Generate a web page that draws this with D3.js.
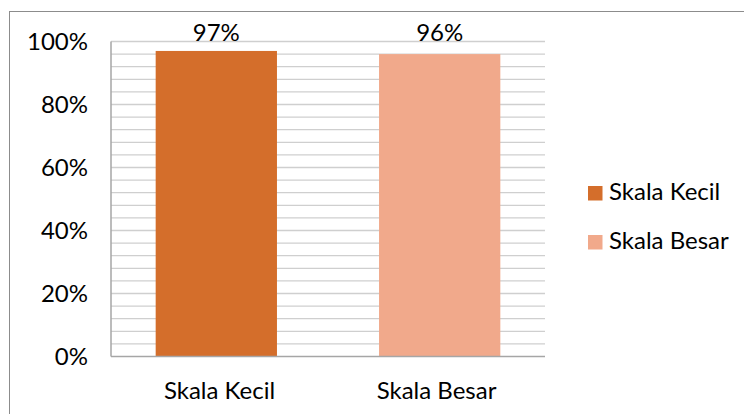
<!DOCTYPE html>
<html>
<head>
<meta charset="utf-8">
<script src="https://cdn.jsdelivr.net/npm/d3@7"></script>
<style>
  body { margin: 0; background: #fff; }
  text { font-family: Lato, "Open Sans", sans-serif; fill: #000; }
</style>
</head>
<body>
<script>
// data
let categories = ["Skala Kecil", "Skala Besar"];
let values = [97, 96];
let labels = ["97%", "96%"];
let colors = ["#D46E2B", "#F1A98B"];
let yTicks = [0, 20, 40, 60, 80, 100];
let gridStep = 4;

let width = 744,
    height = 414;

let svg = d3.select("body")
            .append("svg")
            .attr("width", width)
            .attr("height", height);

// outer chart frame (right/bottom run off the picture)
svg.append("rect")
   .attr("x", 9.5).attr("y", 11.5)
   .attr("width", width).attr("height", height)
   .attr("fill", "none")
   .attr("stroke", "#8c8c8c");

let plotLeft = 111, plotRight = 545, plotTop = 41.5, plotBottom = 356.5;

let y = d3.scaleLinear().domain([0, 100]).range([plotBottom, plotTop]);
let xBar = d3.scaleBand().domain(categories).range([plotLeft, plotRight])
             .paddingInner(0.457).paddingOuter(0.2);
let xCat = d3.scaleBand().domain(categories).range([plotLeft, plotRight]).padding(0);

// grid every 4%
svg.append("g")
   .selectAll("line")
   .data(d3.range(gridStep, 100 + gridStep / 2, gridStep))
   .enter().append("line")
   .attr("x1", plotLeft).attr("x2", plotRight)
   .attr("y1", d => y(d)).attr("y2", d => y(d))
   .attr("stroke", "#cfcfcf")
   .attr("stroke-width", 1.3);

// bars
svg.append("g")
   .selectAll("rect")
   .data(values)
   .enter().append("rect")
   .attr("x", (d, i) => xBar(categories[i]))
   .attr("width", xBar.bandwidth())
   .attr("y", d => y(d))
   .attr("height", d => y(0) - y(d))
   .attr("fill", (d, i) => colors[i]);

// axis lines
svg.append("line")
   .attr("x1", plotLeft).attr("x2", plotLeft).attr("y1", plotTop).attr("y2", plotBottom)
   .attr("stroke", "#a6a6a6").attr("stroke-width", 1.5);
svg.append("line")
   .attr("x1", plotLeft).attr("x2", plotRight).attr("y1", plotBottom).attr("y2", plotBottom)
   .attr("stroke", "#a6a6a6").attr("stroke-width", 1.5);

// y tick labels
svg.append("g")
   .selectAll("text")
   .data(yTicks)
   .enter().append("text")
   .attr("x", 88)
   .attr("y", d => y(d) + 8.5)
   .attr("text-anchor", "end")
   .style("font-size", "24px")
   .text(d => d + "%");

// category labels
svg.append("g")
   .selectAll("text")
   .data(categories)
   .enter().append("text")
   .attr("x", d => xCat(d) + xCat.bandwidth() / 2)
   .attr("y", 399)
   .attr("text-anchor", "middle")
   .style("font-size", "24px")
   .text(d => d);

// data labels
svg.append("g")
   .selectAll("text")
   .data(values)
   .enter().append("text")
   .attr("x", (d, i) => xBar(categories[i]) + xBar.bandwidth() / 2)
   .attr("y", d => Math.min(y(d) - 10, 40.5))
   .attr("text-anchor", "middle")
   .style("font-size", "24px")
   .text((d, i) => labels[i]);

// legend
let legend = svg.append("g")
   .selectAll("g")
   .data(categories)
   .enter().append("g")
   .attr("transform", (d, i) => "translate(588," + (186 + i * 49) + ")");

legend.append("rect")
   .attr("width", 14.5).attr("height", 14.5)
   .attr("fill", (d, i) => colors[i]);

legend.append("text")
   .attr("x", 21)
   .attr("y", 13.5)
   .style("font-size", "24px")
   .text(d => d);
</script>
</body>
</html>
